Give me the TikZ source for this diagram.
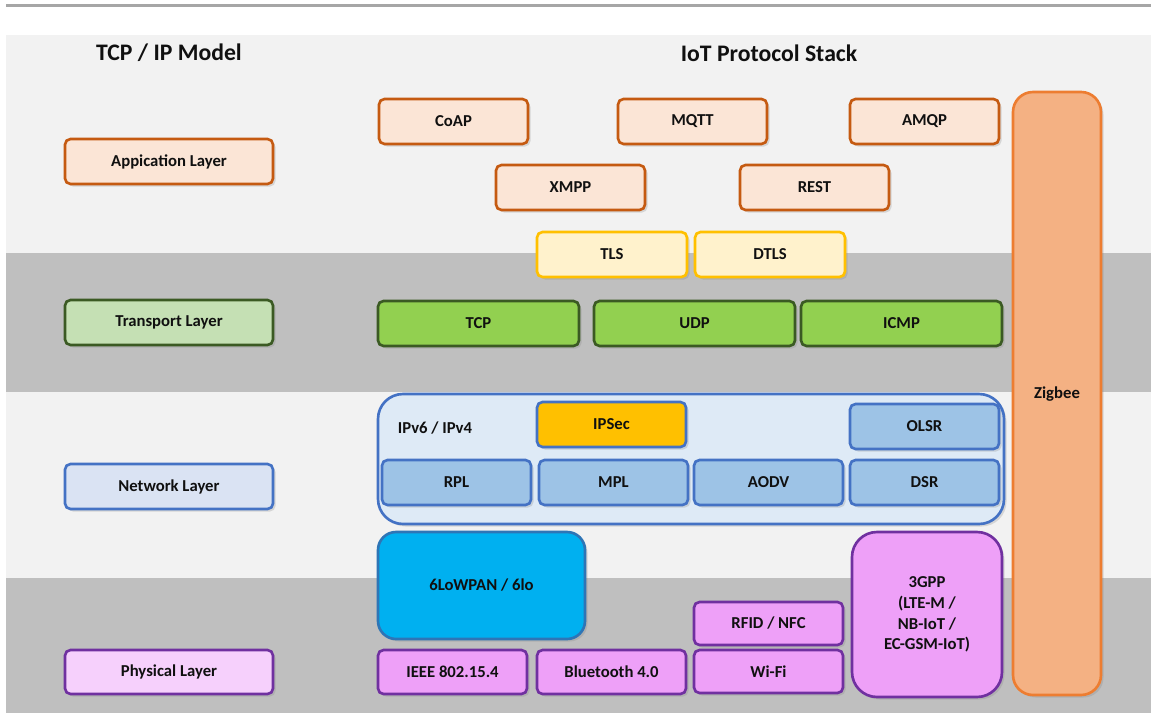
\documentclass[tikz,border=0pt]{standalone}
\usepackage{fontspec}
\setmainfont{Carlito}
\usetikzlibrary{shadows}

\definecolor{bandlight}{HTML}{F2F2F2}
\definecolor{banddark}{HTML}{BFBFBF}
\definecolor{topline}{HTML}{A6A6A6}
\definecolor{appfill}{HTML}{FBE5D6}
\definecolor{appline}{HTML}{C55A11}
\definecolor{trlabfill}{HTML}{C5E0B4}
\definecolor{trline}{HTML}{3B5A23}
\definecolor{trfill}{HTML}{92D050}
\definecolor{secfill}{HTML}{FFF2CC}
\definecolor{secline}{HTML}{FFC000}
\definecolor{netlabfill}{HTML}{DAE3F3}
\definecolor{netline}{HTML}{4472C4}
\definecolor{netfill}{HTML}{DEEAF6}
\definecolor{routefill}{HTML}{9DC3E6}
\definecolor{ipsecfill}{HTML}{FFC000}
\definecolor{lowfill}{HTML}{00B0F0}
\definecolor{lowline}{HTML}{2E75B6}
\definecolor{phlabfill}{HTML}{F6D0FC}
\definecolor{phline}{HTML}{7030A0}
\definecolor{phfill}{HTML}{EEA0F8}
\definecolor{zigfill}{HTML}{F4B183}
\definecolor{zigline}{HTML}{ED7D31}
\definecolor{txt}{HTML}{101010}

% a box given by its corners (in pixel units)
\newcommand\boxat[7]{%
  \node[#6, minimum width={(#4-#2)*0.02cm}, minimum height={(#5-#3)*0.02cm}]
    (#1) at ({(#2+#4)/2},{(#3+#5)/2}) {#7};}

\tikzset{
  base/.style={rounded corners=0.11cm, line width=1.5pt, inner sep=0pt,
    text=txt, font=\fontsize{9.5}{11.8}\selectfont\bfseries, align=center,
    drop shadow={shadow xshift=0.05cm, shadow yshift=-0.05cm, opacity=0.25}},
  appbox/.style={base, draw=appline, fill=appfill},
  trlab/.style={base, draw=trline, fill=trlabfill},
  trbox/.style={base, draw=trline, fill=trfill},
  secbox/.style={base, draw=secline, fill=secfill},
  netlab/.style={base, draw=netline, fill=netlabfill},
  netarea/.style={base, rounded corners=0.5cm, draw=netline, fill=netfill},
  routebox/.style={base, draw=netline, fill=routefill},
  ipsecbox/.style={base, draw=netline, fill=ipsecfill},
  lowbox/.style={base, rounded corners=0.36cm, draw=lowline, fill=lowfill},
  phlab/.style={base, draw=phline, fill=phlabfill},
  phbox/.style={base, draw=phline, fill=phfill},
  cellbox/.style={base, rounded corners=0.5cm, draw=phline, fill=phfill},
  zigbox/.style={base, rounded corners=0.4cm, draw=zigline, fill=zigfill},
  heading/.style={text=txt, font=\fontsize{13.5}{16}\selectfont\bfseries, inner sep=0pt},
  plain/.style={text=txt, font=\fontsize{9.5}{11.8}\selectfont\bfseries, inner sep=0pt}
}

\begin{document}
\begin{tikzpicture}[x=0.02cm, y=-0.02cm]
\useasboundingbox (0,0) rectangle (1151,713);
\fill[white] (0,0) rectangle (1151,713);

% layer bands
\fill[bandlight] (6,35) rectangle (1151,253);
\fill[banddark]  (6,253) rectangle (1151,392);
\fill[bandlight] (6,392) rectangle (1151,578);
\fill[banddark]  (6,578) rectangle (1151,713);
\draw[topline, line width=2.2pt] (6,5.5) -- (1151,5.5);

% headings
\node[heading] (hmodel) at (169,53) {TCP / IP Model};
\node[heading] (hstack) at (769,53) {IoT Protocol Stack};

% TCP/IP model layers
\boxat{lapp}{65}{139}{273}{184}{appbox}{Appication Layer}
\boxat{ltr}{65}{300}{273}{345}{trlab}{Transport Layer}
\boxat{lnet}{65}{464}{273}{509}{netlab}{Network Layer}
\boxat{lph}{65}{650}{273}{694}{phlab}{Physical Layer}

% Zigbee spans every layer
\boxat{zig}{1013}{92}{1101}{695}{zigbox}{}
\node[plain] (zigtxt) at (1057,394) {Zigbee};

% application protocols
\boxat{coap}{379}{99}{528}{144}{appbox}{CoAP}
\boxat{mqtt}{618}{99}{767}{144}{appbox}{MQTT}
\boxat{amqp}{850}{99}{999}{144}{appbox}{AMQP}
\boxat{xmpp}{496}{165}{645}{210}{appbox}{XMPP}
\boxat{rest}{740}{165}{889}{210}{appbox}{REST}

% security
\boxat{tls}{537}{232}{687}{277}{secbox}{TLS}
\boxat{dtls}{695}{232}{845}{277}{secbox}{DTLS}

% transport
\boxat{tcp}{378}{301}{579}{346}{trbox}{TCP}
\boxat{udp}{594}{301}{795}{346}{trbox}{UDP}
\boxat{icmp}{801}{301}{1002}{346}{trbox}{ICMP}

% network
\boxat{ipnet}{378}{394}{1004}{524}{netarea}{}
\node[plain] (iptxt) at (435,428) {IPv6 / IPv4};
\boxat{ipsec}{537}{402}{686}{447}{ipsecbox}{IPSec}
\boxat{olsr}{850}{404}{999}{449}{routebox}{OLSR}
\boxat{rpl}{382}{460}{531}{505}{routebox}{RPL}
\boxat{mpl}{539}{460}{688}{505}{routebox}{MPL}
\boxat{aodv}{694}{460}{843}{505}{routebox}{AODV}
\boxat{dsr}{850}{460}{999}{505}{routebox}{DSR}

% adaptation and physical
\boxat{lowpan}{378}{532}{585}{639}{lowbox}{6LoWPAN / 6lo}
\boxat{gpp}{852}{532}{1002}{697}{cellbox}{3GPP\\(LTE-M /\\NB-IoT /\\EC-GSM-IoT)}
\boxat{rfid}{694}{602}{843}{645}{phbox}{RFID / NFC}
\boxat{wifi}{694}{650}{843}{693}{phbox}{Wi-Fi}
\boxat{ieee}{378}{650}{527}{694}{phbox}{IEEE 802.15.4}
\boxat{bt}{537}{650}{686}{694}{phbox}{Bluetooth 4.0}
\end{tikzpicture}
\end{document}
